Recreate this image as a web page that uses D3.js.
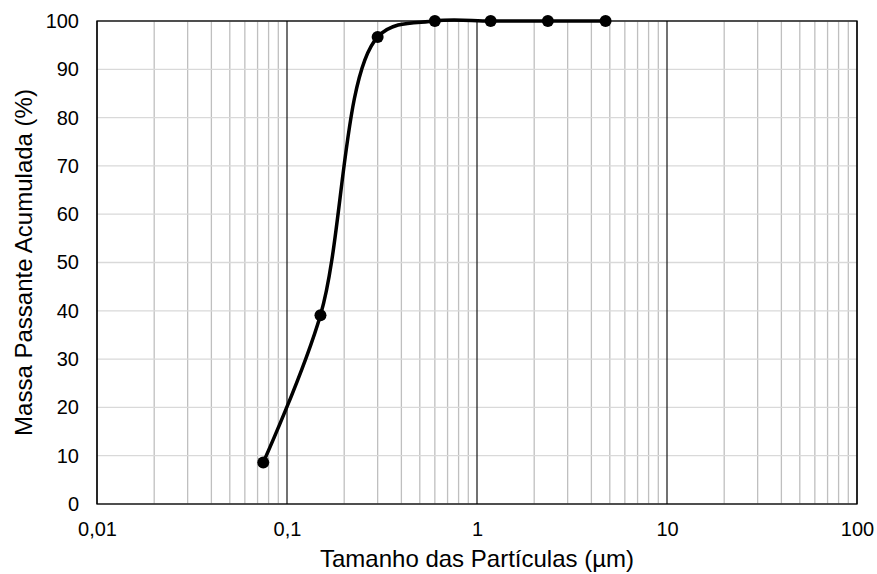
<!DOCTYPE html>
<html><head><meta charset="utf-8">
<script src="https://cdn.jsdelivr.net/npm/d3@7"></script>
<style>body{margin:0;background:#fff;} text{font-family:"Liberation Sans",Arial,sans-serif;fill:#000;}</style>
</head><body>
<script>
const sizes = [0.075, 0.15, 0.3, 0.6, 1.18, 2.36, 4.75];
const passing = [8.6, 39.1, 96.7, 100, 100, 100, 100];
const xTicks = [0.01, 0.1, 1, 10, 100];
const xTickLabels = ["0,01", "0,1", "1", "10", "100"];
const yTicks = [0, 10, 20, 30, 40, 50, 60, 70, 80, 90, 100];
const xTitle = "Tamanho das Partículas (µm)";
const yTitle = "Massa Passante Acumulada (%)";

const W = 877, H = 574;
const m = {left: 97, top: 21, right: 20, bottom: 70};
const svg = d3.select("body").append("svg").attr("width", W).attr("height", H);
const x = d3.scaleLog().domain([0.01, 100]).range([m.left, W - m.right]);
const y = d3.scaleLinear().domain([0, 100]).range([H - m.bottom, m.top]);

const minor = [];
for (let d = 0.01; d < 100; d *= 10) for (let k = 2; k <= 9; k++) minor.push(d * k);
svg.append("g").selectAll("line").data(minor).join("line")
  .attr("x1", d => x(d)).attr("x2", d => x(d)).attr("y1", y(0)).attr("y2", y(100))
  .attr("stroke", "#bfbfbf").attr("stroke-width", 1.3);
svg.append("g").selectAll("line").data(yTicks).join("line")
  .attr("x1", x(0.01)).attr("x2", x(100)).attr("y1", d => y(d)).attr("y2", d => y(d))
  .attr("stroke", "#d9d9d9").attr("stroke-width", 1.3);
svg.append("g").selectAll("line").data(xTicks).join("line")
  .attr("x1", d => x(d)).attr("x2", d => x(d)).attr("y1", y(0)).attr("y2", y(100))
  .attr("stroke", "#262626").attr("stroke-width", 1.3);
svg.append("rect").attr("x", x(0.01)).attr("y", y(100)).attr("width", x(100) - x(0.01)).attr("height", y(0) - y(100))
  .attr("fill", "none").attr("stroke", "#000").attr("stroke-width", 1.3);

const xa = svg.append("g").attr("transform", `translate(0,${y(0)})`)
  .call(d3.axisBottom(x).tickValues(xTicks).tickFormat((d, i) => xTickLabels[i]).tickSize(0).tickPadding(18));
xa.select(".domain").remove();
xa.selectAll("text").attr("font-size", 20).style("font-family", "Liberation Sans, Arial, sans-serif");
const ya = svg.append("g").attr("transform", `translate(${x(0.01)},0)`)
  .call(d3.axisLeft(y).tickValues(yTicks).tickSize(0).tickPadding(18));
ya.select(".domain").remove();
ya.selectAll("text").attr("font-size", 20).style("font-family", "Liberation Sans, Arial, sans-serif");

svg.append("text").attr("x", x(1)).attr("y", 567).attr("text-anchor", "middle").attr("font-size", 24).text(xTitle);
svg.append("text").attr("transform", `translate(32,${(y(0) + y(100)) / 2}) rotate(-90)`)
  .attr("text-anchor", "middle").attr("font-size", 24).text(yTitle);

const pts = sizes.map((s, i) => [x(s), y(passing[i])]);
svg.append("path").attr("d", d3.line().curve(d3.curveCatmullRom.alpha(0.5))(pts))
  .attr("fill", "none").attr("stroke", "#000").attr("stroke-width", 3.5);
svg.append("g").selectAll("circle").data(pts).join("circle")
  .attr("cx", d => d[0]).attr("cy", d => d[1]).attr("r", 6).attr("fill", "#000");
</script>
</body></html>
